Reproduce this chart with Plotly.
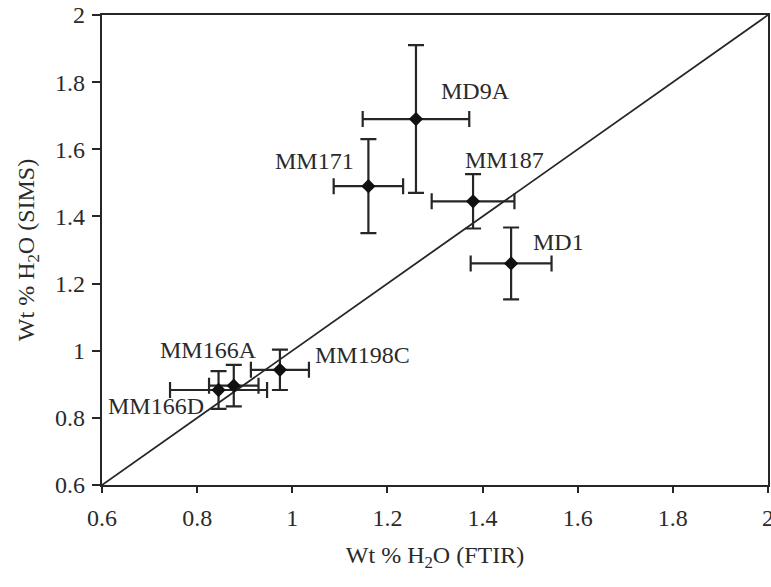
import plotly.graph_objects as go

# ---- data ----
names = ["MD9A", "MM171", "MM187", "MD1", "MM166A", "MM166D", "MM198C"]
ftir = [1.26, 1.16, 1.38, 1.46, 0.877, 0.845, 0.974]
sims = [1.69, 1.49, 1.445, 1.26, 0.896, 0.883, 0.943]
ftir_err = [0.112, 0.073, 0.087, 0.085, 0.052, 0.102, 0.061]
sims_err = [0.22, 0.14, 0.081, 0.107, 0.062, 0.056, 0.06]
line_x = [0.6, 2.0]
line_y = [0.6, 2.0]
tick_vals = [0.6, 0.8, 1.0, 1.2, 1.4, 1.6, 1.8, 2.0]
tick_text = ["0.6", "0.8", "1", "1.2", "1.4", "1.6", "1.8", "2"]

# label placement (pixel offsets from point, anchor)
label_style = {
    "MD9A": (23, 28, "left"),
    "MM171": (-12, 25, "right"),
    "MM187": (-10, 41, "left"),
    "MD1": (20, 21, "left"),
    "MM166A": (-76, 36, "left"),
    "MM166D": (-13, -16, "right"),
    "MM198C": (33, 15, "left"),
}

FONT = "Liberation Serif, Times New Roman, serif"
TXT = "#2a2a2a"
LINE = "#262626"
FS = 24

fig = go.Figure()
fig.add_trace(go.Scatter(x=line_x, y=line_y, mode="lines",
                         line=dict(color=LINE, width=1.8), hoverinfo="skip",
                         showlegend=False))
fig.add_trace(go.Scatter(
    x=ftir, y=sims, mode="markers", showlegend=False,
    marker=dict(symbol="diamond", size=11, color="#111111"),
    error_x=dict(type="data", array=ftir_err, visible=True, color=LINE,
                 thickness=2.2, width=8),
    error_y=dict(type="data", array=sims_err, visible=True, color=LINE,
                 thickness=2.2, width=8),
))

for n, x, y in zip(names, ftir, sims):
    dx, dy, anc = label_style[n]
    fig.add_annotation(x=x, y=y, text=n, showarrow=False, xanchor=anc,
                       yanchor="middle", xshift=dx, yshift=dy,
                       font=dict(family=FONT, size=FS, color=TXT))

axis_common = dict(
    range=[0.6, 2.0], tickvals=tick_vals, ticktext=tick_text,
    showgrid=False, zeroline=False, showline=True, mirror=True,
    linecolor=LINE, linewidth=2.2, ticks="outside", tickcolor=LINE,
    tickwidth=2, tickfont=dict(family=FONT, size=FS, color=TXT),
    automargin=False, ticklabeloverflow="allow",
)

fig.update_xaxes(**axis_common, ticklen=6, ticklabelstandoff=4,
                 title=dict(text="Wt % H<sub>2</sub>O (FTIR)",
                            font=dict(family=FONT, size=FS, color=TXT),
                            standoff=16))
fig.update_yaxes(**axis_common, ticklen=8, ticklabelstandoff=2,
                 title=dict(text="Wt % H<sub>2</sub>O (SIMS)",
                            font=dict(family=FONT, size=FS, color=TXT),
                            standoff=14))

fig.update_layout(
    width=771, height=587,
    margin=dict(l=102, r=3, t=15, b=102),
    plot_bgcolor="white", paper_bgcolor="white",
    font=dict(family=FONT, color=TXT),
)

fig.write_html(
    "out.html",
    config={"displayModeBar": False},
    post_script="document.body.style.margin='0';document.body.style.overflow='hidden';",
)
